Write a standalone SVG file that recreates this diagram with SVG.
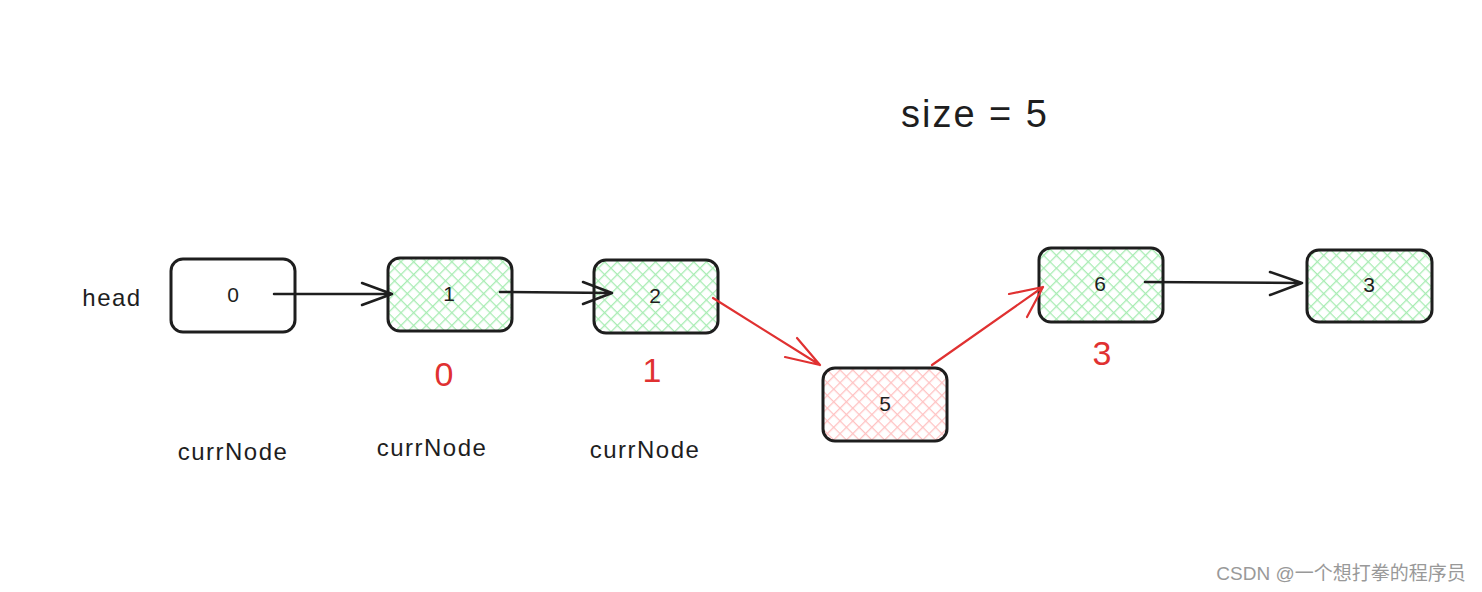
<svg xmlns="http://www.w3.org/2000/svg" width="1482" height="592" viewBox="0 0 1482 592">
<style>
.box{stroke:#1e1e1e;stroke-width:3}
.t{font-family:"Liberation Sans",sans-serif;fill:#1e1e1e;text-anchor:middle}
.n{font-size:21px}
.lbl{font-size:24px;letter-spacing:1.5px}
.red{fill:#e03131;font-size:34px}
.c{fill:none;stroke-width:2.5;stroke-linecap:round;stroke-linejoin:round}
.k{stroke:#1e1e1e}
.r{stroke:#e03131;stroke-width:2.2}
</style>
<defs>
<pattern id="hg" width="9" height="9" patternUnits="userSpaceOnUse" patternTransform="rotate(45)">
<path d="M0 0V9M0 0H9" stroke="#a8ecb3" stroke-width="2.6" fill="none"/>
</pattern>
<pattern id="hr" width="9" height="9" patternUnits="userSpaceOnUse" patternTransform="rotate(45)">
<path d="M0 0V9M0 0H9" stroke="#ffc2c2" stroke-width="2.6" fill="none"/>
</pattern>
</defs>
<rect width="1482" height="592" fill="#fff"/>
<text class="t" x="975" y="127" font-size="38" letter-spacing="2">size = 5</text>
<text class="t lbl" x="112" y="306">head</text>
<g id="node0"><rect class="box" x="171" y="259" width="124" height="73" rx="12" fill="#fff"/><text class="t n" x="233" y="302">0</text></g>
<g id="node1"><rect class="box" x="388" y="258" width="124" height="73" rx="12" fill="url(#hg)"/><text class="t n" x="449" y="301">1</text></g>
<g id="node2"><rect class="box" x="594" y="260" width="124" height="73" rx="12" fill="url(#hg)"/><text class="t n" x="655" y="303">2</text></g>
<g id="node5"><rect class="box" x="823" y="368" width="124" height="73" rx="12" fill="url(#hr)"/><text class="t n" x="885" y="411">5</text></g>
<g id="node6"><rect class="box" x="1039" y="248" width="124" height="74" rx="12" fill="url(#hg)"/><text class="t n" x="1100" y="291">6</text></g>
<g id="node3"><rect class="box" x="1307" y="250" width="125" height="72" rx="12" fill="url(#hg)"/><text class="t n" x="1369" y="292">3</text></g>
<g id="connectors">
<path class="c k" d="M274 294L392 294M362 283L392 294L362 305"/>
<path class="c k" d="M500 292L612 293M583 282L612 293L583 304" stroke-width="3"/>
<path class="c r" d="M713 298L820 365M797 338L820 365L785 357"/>
<path class="c r" d="M932 365L1043 287M1009 294L1043 287L1027 317"/>
<path class="c k" d="M1145 282L1302 283M1270 272L1302 283L1270 295" stroke-width="3"/>
</g>
<text class="t red" x="444" y="386">0</text>
<text class="t red" x="652" y="382">1</text>
<text class="t red" x="1102" y="365">3</text>
<text class="t lbl" x="233" y="460">currNode</text>
<text class="t lbl" x="432" y="456">currNode</text>
<text class="t lbl" x="645" y="458">currNode</text>
<text x="1341" y="580" font-family="'Liberation Sans','Noto Sans CJK SC',sans-serif" font-size="19" fill="#999" text-anchor="middle">CSDN @一个想打拳的程序员</text>
</svg>
